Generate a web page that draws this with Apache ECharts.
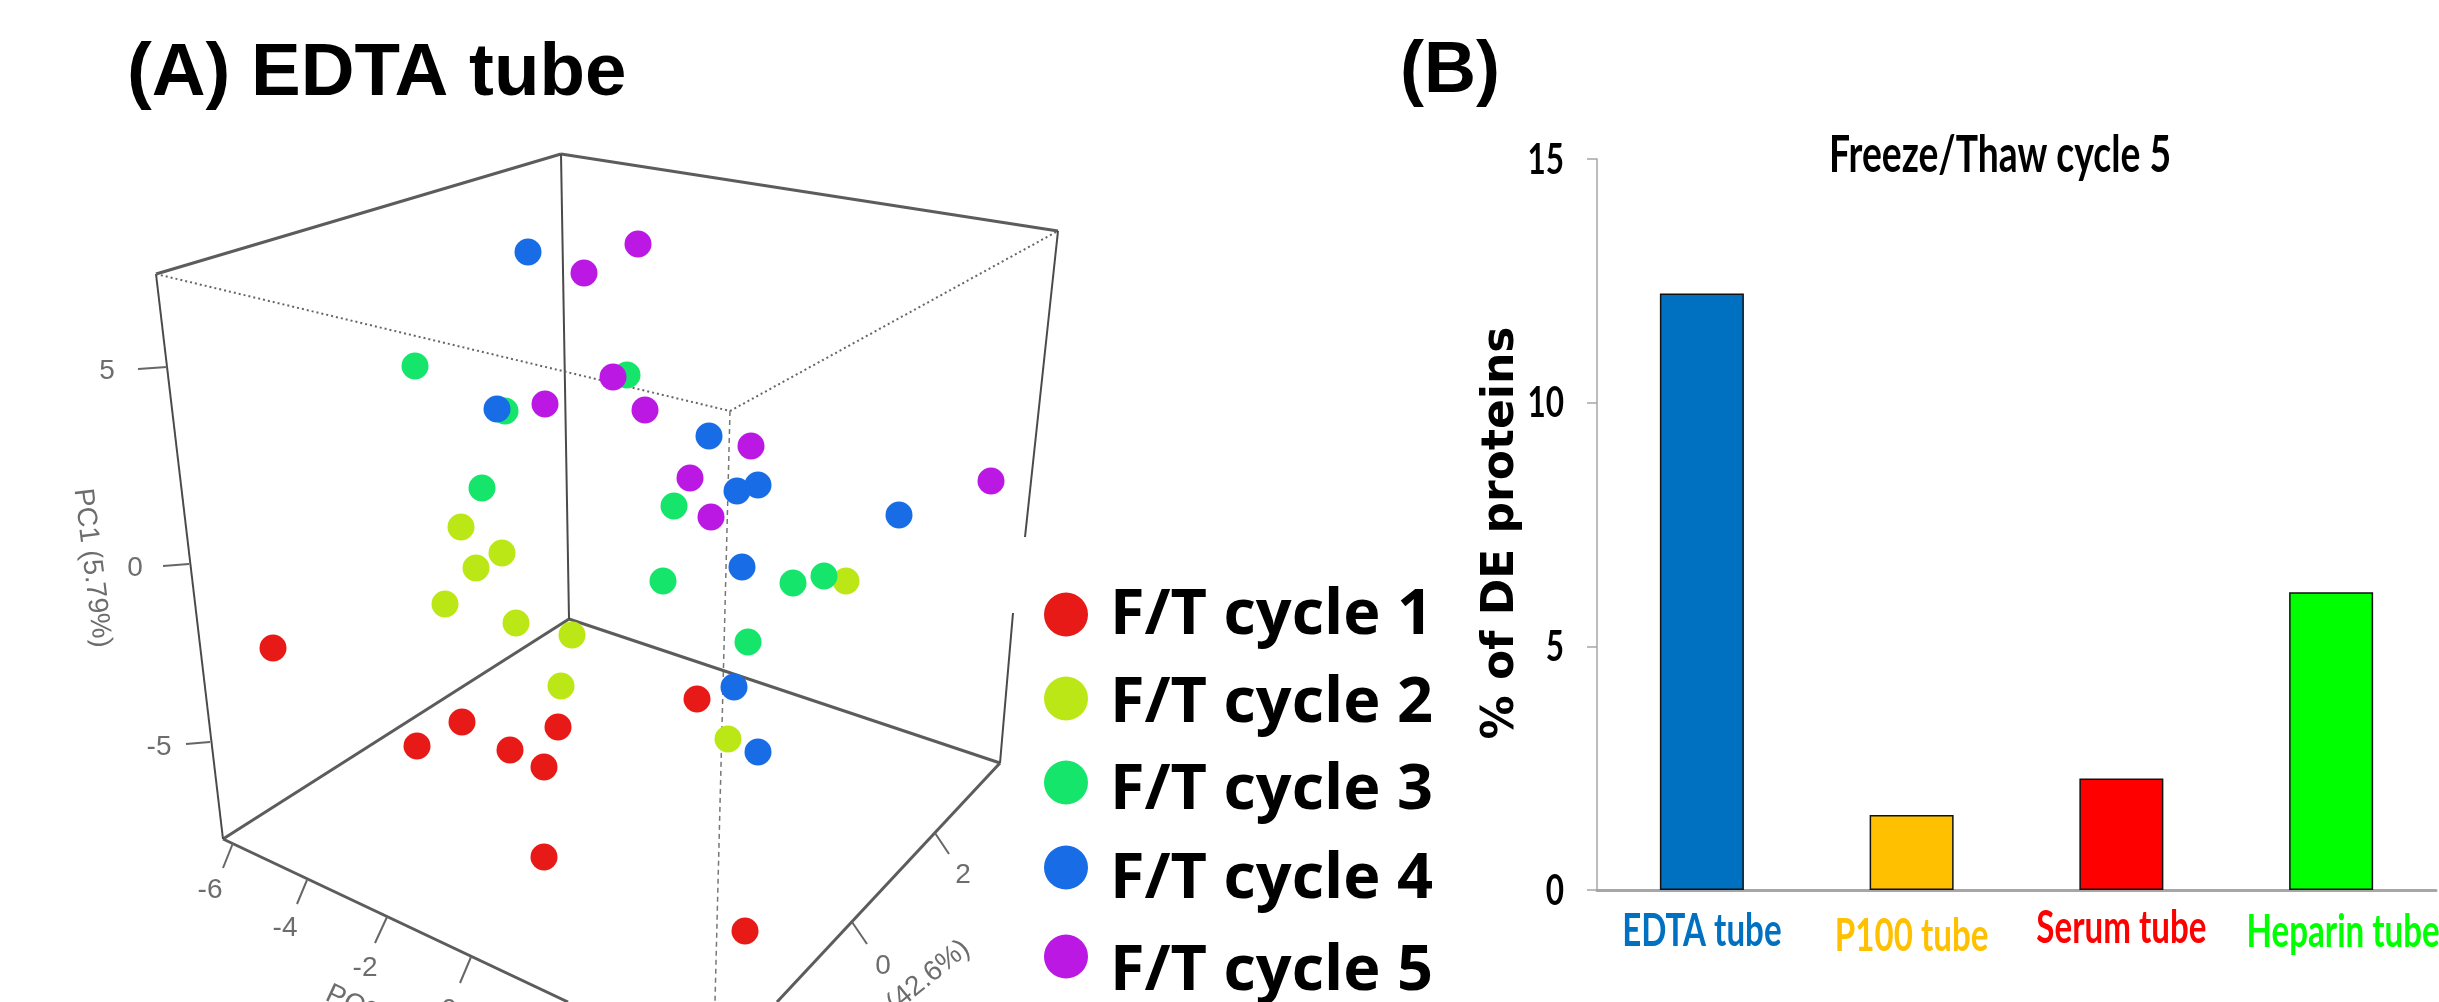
<!DOCTYPE html>
<html>
<head>
<meta charset="utf-8">
<style>html,body{margin:0;padding:0;background:#fff;overflow:hidden}#c{width:2439px;height:1002px}</style>
<script src="https://cdn.jsdelivr.net/npm/echarts@6/dist/echarts.min.js"></script>
</head>
<body>
<div id="c"></div>
<script>
// Panel A: sample positions as projected onto the picture plane of the 3D box
const cycleNames = ['F/T cycle 1','F/T cycle 2','F/T cycle 3','F/T cycle 4','F/T cycle 5'];
const cycleColors = ['#E81A18','#BCE716','#16E56C','#186CE6','#BC18E4'];
const cycle1 = [[273,648],[417,746],[462,722],[510,750],[544,767],[558,727],[697,699],[544,857],[745,931]];
const cycle2 = [[461,527],[502,553],[476,568],[445,604],[516,623],[572,635],[561,686],[728,739],[846,581]];
const cycle3 = [[674,506],[663,581],[793,583],[824,576],[748,642],[415,366],[627,375],[505,411],[482,488]];
const cycle4 = [[528,252],[497,409],[709,436],[758,485],[737,491],[899,515],[742,567],[734,687],[758,752]];
const cycle5 = [[638,244],[584,273],[613,377],[545,404],[645,410],[751,446],[690,478],[711,517],[991,481]];
const cycles = [cycle1,cycle2,cycle3,cycle4,cycle5];

const heavyEdges = [
  [[156,274],[561,154]], [[561,154],[1058,231]],
  [[223,839],[569,619]], [[569,619],[1000,763]],
  [[223,839],[568,1002]], [[1000,763],[777,1002]]
];
const thinEdges = [
  [[156,274],[223,839]], [[561,154],[569,619]],
  [[1058,231],[1025,537]], [[1013,613],[1000,763]]
];
const dottedEdges = [[[156,274],[730,411]], [[730,411],[1058,231]]];
const dashedEdges = [[[730,411],[715,1002]]];
const tickMarks = [
  [[138,369],[167,367]], [[163,566],[189,564]], [[186,744],[210,742]],
  [[233,843],[223,868]], [[307,880],[297,904]], [[387,917],[375,943]], [[471,957],[460,983]],
  [[935,833],[949,854]], [[852,922],[867,944]]
];
const axisTexts = ['5','0','-5','-6','-4','-2','0','2','0','PC1 (5.79%)','PC2 (42.6%)','PC3'];
const axisTextPlaces = [[107,371],[135,568],[159,747],[210,890],[285,928],[365,968],[449,1010],[963,875],[883,966],[92,568],[904,996],[352,1004]];
const axisTextAngles = [0,0,0,0,0,0,0,0,0,-83,39,-25];
const legendTextPadTop = [10,14,17,21,24];

// Panel B
const barCategories = ['EDTA tube','P100 tube','Serum tube','Heparin tube'];
const barValues = [12.24,1.54,2.29,6.11];
const barColors = ['#0070C0','#FFC000','#FF0000','#00FF00'];
const barTicks = [0,5,10,15];
const categoryDrop = [41,46,38,42];
const categoryShift = [0,0,0,12];

const calibriLike = 'Lato,"Liberation Sans",sans-serif';
const arial = '"Liberation Sans",Arial,sans-serif';

const edgeSeries = (list, style) => list.map(d => ({
  type:'line', xAxisIndex:0, yAxisIndex:0, data:d, symbol:'none', silent:true, z:1,
  clip:false, animation:false, lineStyle:style
}));

const legendRich = {};
legendTextPadTop.forEach((t,i)=>{
  legendRich['r'+i] = {fontFamily:'"Open Sans",sans-serif',fontWeight:'bold',fontSize:63,color:'#000',lineHeight:64,
    padding:[t,0,16-t,17]};
});

const series = [
  ...edgeSeries(heavyEdges,{color:'#5c5c5c',width:3}),
  ...edgeSeries(thinEdges,{color:'#4a4a4a',width:2}),
  ...edgeSeries(dottedEdges,{color:'#666',width:2,type:[2,3]}),
  ...edgeSeries(dashedEdges,{color:'#777',width:1.5,type:[5,4]}),
  ...edgeSeries(tickMarks,{color:'#666',width:2}),
  {
    type:'scatter', xAxisIndex:0, yAxisIndex:0, symbol:'circle', symbolSize:1, silent:true, clip:false, animation:false, z:2,
    itemStyle:{color:'rgba(0,0,0,0)'},
    data: axisTexts.map((t,i) => ({
      value:axisTextPlaces[i],
      label:{show:true,position:'inside',formatter:t,rotate:axisTextAngles[i],fontFamily:arial,fontSize:28,color:'#484848'}
    }))
  },
  ...cycles.map((d,i) => ({
    name:cycleNames[i], type:'scatter', xAxisIndex:0, yAxisIndex:0, data:d, symbol:'circle', symbolSize:27,
    itemStyle:{color:cycleColors[i],opacity:1}, animation:false, z:3+i
  })),
  {
    type:'bar', xAxisIndex:1, yAxisIndex:1, barWidth:84, animation:false,
    data: barValues.map((v,i) => ({value:v,itemStyle:{color:barColors[i],borderColor:'#111',borderWidth:1.5}}))
  },
  { // category labels, tall and narrow as in the reference
    type:'custom', xAxisIndex:1, yAxisIndex:1, silent:true, animation:false, clip:false,
    data: barCategories.map((c,i)=>[i,0]),
    renderItem:(params,api)=>{
      const i = params.dataIndex, p = api.coord([i,0]);
      return {type:'text',x:p[0]+categoryShift[i],y:p[1]+categoryDrop[i],scaleX:0.72,
        style:{text:barCategories[i],fill:barColors[i],fontFamily:calibriLike,fontWeight:'bold',fontSize:46,textAlign:'center',textVerticalAlign:'middle'}};
    }
  },
  { // value tick labels
    type:'custom', xAxisIndex:1, yAxisIndex:1, silent:true, animation:false, clip:false,
    data: barTicks.map(v=>[0,v]),
    renderItem:(params,api)=>{
      const p = api.coord([0,api.value(1)]);
      return {type:'text',x:params.coordSys.x-33,y:p[1]+1,scaleX:0.75,
        style:{text:String(api.value(1)),fill:'#000',fontFamily:calibriLike,fontWeight:'bold',fontSize:42,textAlign:'right',textVerticalAlign:'middle'}};
    }
  }
];

const chart = echarts.init(document.getElementById('c'),null,{renderer:'canvas'});
chart.setOption({
  backgroundColor:'#fff',
  animation:false,
  title:[
    {text:'(A) EDTA tube',left:127,top:37,padding:0,textStyle:{fontFamily:arial,fontWeight:'bold',fontSize:74.5,color:'#000'}},
    {text:'(B)',left:1400,top:36,padding:0,textStyle:{fontFamily:arial,fontWeight:'bold',fontSize:72,color:'#000'}}
  ],
  graphic:[{type:'text',x:2000,y:156,scaleX:0.73,
    style:{text:'Freeze/Thaw cycle 5',fill:'#000',fontFamily:calibriLike,fontWeight:'bold',fontSize:51,textAlign:'center',textVerticalAlign:'middle'}}],
  legend:{
    data:cycleNames, orient:'vertical', left:1044, top:575, height:600, padding:0, itemGap:5, itemWidth:44, itemHeight:44,
    icon:'circle', selectedMode:false,
    formatter:name=>`{r${cycleNames.indexOf(name)}|${name}}`,
    textStyle:{fontSize:63,rich:legendRich}
  },
  grid:[
    {left:0,right:0,top:0,bottom:0,outerBoundsMode:'none'},
    {left:1597,right:3,top:159,bottom:112,outerBoundsMode:'none'}
  ],
  xAxis:[
    {type:'value',gridIndex:0,min:0,max:2439,show:false},
    {type:'category',gridIndex:1,data:barCategories,
      axisLine:{lineStyle:{color:'#a6a6a6',width:3}},axisTick:{show:false},axisLabel:{show:false}}
  ],
  yAxis:[
    {type:'value',gridIndex:0,min:0,max:1002,inverse:true,show:false},
    {type:'value',gridIndex:1,min:0,max:15,interval:5,
      name:'% of DE proteins',nameLocation:'middle',nameGap:73,
      nameTextStyle:{fontFamily:'"DejaVu Sans",sans-serif',fontWeight:'bold',fontSize:44,color:'#000',padding:[0,0,0,-17]},
      splitLine:{show:false},
      axisLine:{show:true,lineStyle:{color:'#a6a6a6',width:1.5}},
      axisTick:{show:true,length:10,lineStyle:{color:'#a6a6a6',width:1.5}},
      axisLabel:{show:false}}
  ],
  series
});
</script>
</body>
</html>
